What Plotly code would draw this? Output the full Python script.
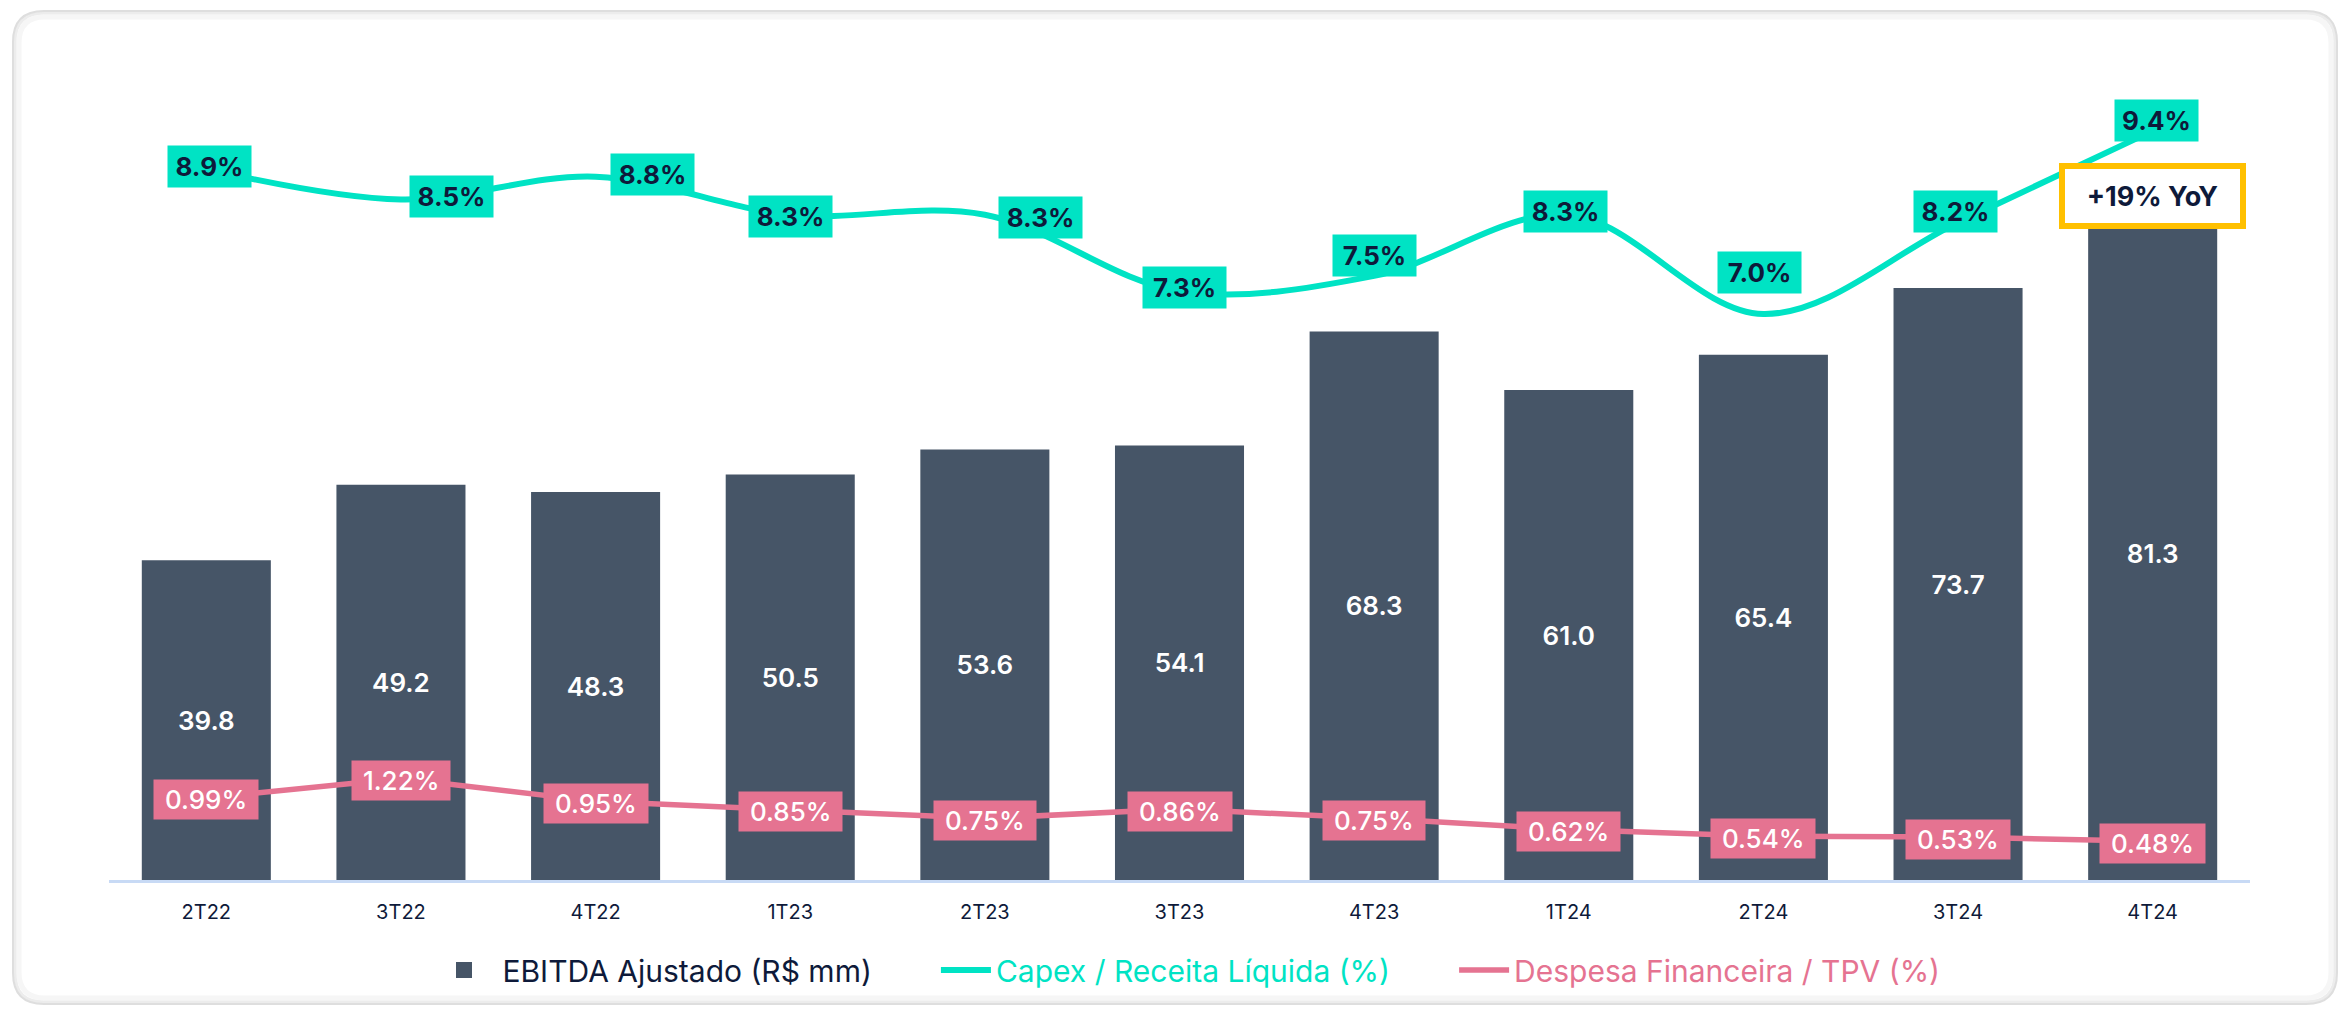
import plotly.graph_objects as go

# ---------------- data ----------------
categories = ["2T22", "3T22", "4T22", "1T23", "2T23", "3T23", "4T23", "1T24", "2T24", "3T24", "4T24"]
ebitda = [39.8, 49.2, 48.3, 50.5, 53.6, 54.1, 68.3, 61.0, 65.4, 73.7, 81.3]
capex_pct = [8.9, 8.5, 8.8, 8.3, 8.3, 7.3, 7.5, 8.3, 7.0, 8.2, 9.4]
desp_pct = [0.99, 1.22, 0.95, 0.85, 0.75, 0.86, 0.75, 0.62, 0.54, 0.53, 0.48]

series_names = ["EBITDA Ajustado (R$ mm)", "Capex / Receita Líquida (%)", "Despesa Financeira / TPV (%)"]

# ---------------- style ----------------
FONT = "Inter"
NAVY = "#0E1A3A"
BAR = "#465567"
CYAN = "#00E3C4"
PINK = "#E57391"
YELLOW = "#FFC000"
AXIS = "#C8DAF5"

W, H = 2346, 1010
ML, MR, MT, MB = 109, 96, 60, 130
PW, PH = W - ML - MR, H - MT - MB

# label shifts (pixels) for capex labels
capex_shift = [(3, 3), (51, 3), (57, 2), (0, -2), (56, -3), (5, 4), (0, 20), (-3, 3), (-4, 42), (-3, 11), (4, 10)]
GAP = "\u00a0" * 7

fig = go.Figure()

fig.add_trace(go.Bar(
    x=categories, y=ebitda, name=series_names[0], showlegend=False,
    marker=dict(color=BAR, line=dict(width=0)),
    texttemplate="%{y:.1f}", textposition="inside", insidetextanchor="middle",
    textangle=0, constraintext="none",
    textfont=dict(family=FONT, size=26, color="white", weight=600),
    yaxis="y", hoverinfo="skip",
))

# legend entry for the bars (larger square symbol)
fig.add_trace(go.Scatter(
    x=[None], y=[None], mode="markers", name="\u00a0" + series_names[0] + GAP,
    marker=dict(symbol="square", size=24, color=BAR), yaxis="y", hoverinfo="skip",
))

fig.add_trace(go.Scatter(
    x=categories, y=capex_pct, mode="lines",
    name=f'<span style="color:{CYAN}">{series_names[1]}</span>' + GAP,
    line=dict(color=CYAN, width=6, shape="spline", smoothing=1.0),
    yaxis="y2", hoverinfo="skip",
))

fig.add_trace(go.Scatter(
    x=categories, y=desp_pct, mode="lines",
    name=f'<span style="color:{PINK}">{series_names[2]}</span>',
    line=dict(color=PINK, width=5.5),
    yaxis="y3", hoverinfo="skip",
))

annotations = []
for i, (c, v) in enumerate(zip(categories, capex_pct)):
    dx, dy = capex_shift[i]
    annotations.append(dict(
        x=c, y=v, xref="x", yref="y2", text=f"{v:.1f}%", showarrow=False,
        bgcolor=CYAN, borderpad=5, width=73, xshift=dx, yshift=dy,
        font=dict(family=FONT, size=26, color=NAVY, weight=700),
    ))
for c, v in zip(categories, desp_pct):
    annotations.append(dict(
        x=c, y=v, xref="x", yref="y3", text=f"\u00a0{v:.2f}%\u00a0", showarrow=False,
        bgcolor=PINK, borderpad=4, yshift=-2,
        font=dict(family=FONT, size=26, color="white", weight=500),
    ))
yoy = round((ebitda[-1] / ebitda[-5] - 1) * 100)
annotations.append(dict(
    x=categories[-1], y=ebitda[-1], xref="x", yref="y", yanchor="bottom",
    text=f"+{yoy}% YoY", showarrow=False, bgcolor="white",
    bordercolor=YELLOW, borderwidth=6, borderpad=0, width=175, height=54, yshift=-2,
    font=dict(family=FONT, size=27, color=NAVY, weight=700),
))


# card (rounded rectangle) in paper coordinates
def xp(px):
    return (px - ML) / PW


def yp(py):
    return (MT + PH - py) / PH


def rounded(x0, y0, x1, y1, r):
    return (f"M {xp(x0 + r)},{yp(y0)} L {xp(x1 - r)},{yp(y0)} "
            f"Q {xp(x1)},{yp(y0)} {xp(x1)},{yp(y0 + r)} "
            f"L {xp(x1)},{yp(y1 - r)} Q {xp(x1)},{yp(y1)} {xp(x1 - r)},{yp(y1)} "
            f"L {xp(x0 + r)},{yp(y1)} Q {xp(x0)},{yp(y1)} {xp(x0)},{yp(y1 - r)} "
            f"L {xp(x0)},{yp(y0 + r)} Q {xp(x0)},{yp(y0)} {xp(x0 + r)},{yp(y0)} Z")


shapes = [
    dict(type="path", xref="paper", yref="paper", layer="below",
         path=rounded(19, 17, 2331, 998, 26), line=dict(color="#F6F6F6", width=5)),
    dict(type="path", xref="paper", yref="paper", layer="below",
         path=rounded(15, 13, 2335, 1002, 29), line=dict(color="#ECECEC", width=3)),
    dict(type="path", xref="paper", yref="paper", layer="below",
         path=rounded(13, 11, 2337, 1004, 31), line=dict(color="#DEDEDE", width=2)),
]

fig.update_layout(
    width=W, height=H,
    margin=dict(l=ML, r=MR, t=MT, b=MB, pad=0),
    paper_bgcolor="white", plot_bgcolor="white",
    font=dict(family=FONT, color=NAVY),
    bargap=0.337,
    showlegend=True,
    legend=dict(orientation="h", x=(1190 - ML) / PW, xanchor="center", y=(MT + PH - 970) / PH,
                yanchor="middle", font=dict(family=FONT, size=30, color=NAVY), itemwidth=50,
                bgcolor="rgba(0,0,0,0)"),
    xaxis=dict(showline=True, linecolor=AXIS, linewidth=3, showgrid=False, zeroline=False,
               ticks="", tickfont=dict(family=FONT, size=20, color=NAVY), ticklabelstandoff=12,
               fixedrange=True),
    yaxis=dict(range=[0, 102.1], visible=False, showgrid=False, zeroline=False),
    yaxis2=dict(range=[-0.418, 10.329], overlaying="y", visible=False, showgrid=False, zeroline=False),
    yaxis3=dict(range=[0.025, 9.672], overlaying="y", visible=False, showgrid=False, zeroline=False),
    annotations=annotations,
    shapes=shapes,
)

fig.write_html("out.html", config={"displayModeBar": False},
               post_script="document.body.style.margin='0';document.body.style.overflow='hidden';")
